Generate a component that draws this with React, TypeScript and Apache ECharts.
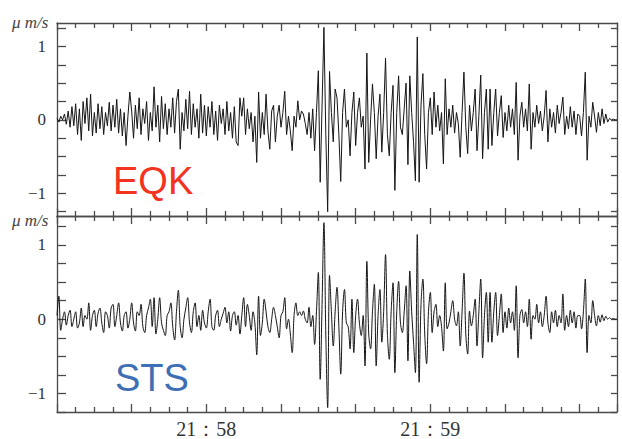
import React, { useEffect, useRef } from "react";
import * as echarts from "echarts";

// Samples: seconds after 21:57:00, one sample every 0.5 s
const startSec = 20;
const stepSec = 0.5;

const eqkValues = [
  0.02, -0.03, 0.05, 0.0, 0.08, -0.06, 0.12, -0.1, 0.18, -0.08,
  0.22, -0.2, 0.15, -0.28, 0.25, -0.05, 0.3, -0.15, 0.35, -0.22,
  0.1, -0.18, 0.22, -0.12, 0.18, -0.2, 0.1, -0.08, 0.24, -0.15,
  0.2, -0.1, 0.28, -0.18, 0.15, -0.22, 0.1, -0.35, 0.05, 0.38,
  0.12, -0.25, 0.2, -0.12, 0.3, -0.2, 0.15, -0.05, 0.25, -0.28,
  0.1, -0.15, 0.45, -0.1, 0.2, -0.3, 0.32, -0.12, 0.22, -0.2,
  0.15, -0.1, 0.3, -0.18, 0.25, 0.42, -0.4, 0.1, -0.15, 0.28,
  -0.12, 0.39, -0.2, 0.22, -0.1, 0.15, -0.25, 0.35, -0.18, 0.2,
  -0.22, 0.18, -0.1, 0.25, -0.2, 0.12, -0.28, 0.2, -0.05, 0.15,
  -0.2, 0.25, -0.15, 0.1, -0.25, 0.18, -0.3, -0.35, 0.3, 0.05,
  0.3, -0.2, 0.15, -0.12, 0.1, -0.3, 0.05, -0.58, 0.38, -0.25,
  0.1, -0.2, 0.35, -0.15, -0.4, 0.12, 0.2, -0.3, 0.05, 0.2,
  -0.1, 0.1, 0.39, -0.2, 0.05, -0.15, -0.42, 0.05, -0.1, 0.26,
  0.0, 0.12, 0.08, -0.05, -0.2, 0.1, -0.25, 0.15, -0.42, 0.1,
  0.67, -0.85, 0.2, 1.26, -0.2, -1.25, 0.66, 0.1, -0.3, 0.42,
  0.3, -0.2, -0.84, 0.1, 0.42, -0.1, 0.0, -0.49, 0.1, 0.38,
  -0.35, 0.1, 0.3, -0.1, 0.05, -0.67, 0.91, -0.58, 0.0, 0.49,
  0.1, -0.53, 0.05, 0.35, -0.44, 0.1, 0.84, -0.2, -0.49, 0.1,
  0.47, -0.96, 0.1, 0.6, -0.1, -0.2, 0.15, 0.5, -0.61, 0.6,
  0.1, -0.3, -0.83, 1.13, -0.85, 0.2, 0.63, -0.2, -0.67, 0.1,
  0.3, -0.2, 0.38, -0.1, 0.2, -0.15, 0.1, -0.6, 0.56, -0.2,
  0.15, -0.1, 0.2, -0.18, 0.1, -0.05, -0.51, 0.1, 0.65, -0.1,
  -0.46, 0.2, -0.15, 0.1, 0.42, -0.42, 0.05, 0.61, -0.53, 0.1,
  0.42, -0.4, 0.42, -0.35, 0.1, 0.42, -0.22, 0.1, 0.33, -0.24,
  0.1, -0.15, 0.2, -0.1, 0.15, -0.2, 0.51, -0.55, 0.05, 0.24,
  -0.1, 0.15, -0.15, 0.49, -0.4, 0.1, -0.1, 0.2, -0.05, 0.12,
  -0.15, 0.05, 0.4, -0.3, 0.15, -0.1, 0.1, -0.18, 0.2, -0.05,
  0.1, 0.31, -0.2, 0.05, -0.12, 0.18, -0.1, 0.12, -0.2, 0.08,
  0.05, -0.22, 0.1, 0.65, -0.55, 0.05, -0.1, 0.24, 0.05, -0.17,
  0.1, -0.08, 0.15, -0.05, 0.08, -0.03, 0.02, 0.0, 0.01, 0.0,
  0.0,
];

const stsValues = [
  0.05, 0.31, -0.15, 0.0, 0.1, -0.08, 0.05, 0.12, -0.1, 0.0,
  0.1, -0.12, -0.05, 0.15, -0.1, 0.05, 0.0, 0.22, -0.15, 0.05,
  0.12, -0.1, 0.08, 0.15, -0.05, -0.18, 0.1, 0.05, -0.12, 0.15,
  0.2, -0.1, 0.05, 0.22, -0.05, -0.16, 0.05, 0.1, -0.12, 0.0,
  0.22, -0.05, -0.16, 0.1, 0.05, 0.2, -0.1, -0.18, 0.05, 0.15,
  0.27, -0.1, 0.29, -0.2, 0.0, 0.29, -0.05, -0.15, -0.22, 0.05,
  0.1, 0.22, -0.1, -0.28, 0.1, 0.39, -0.1, -0.25, 0.0, 0.15,
  0.29, -0.05, -0.18, 0.1, 0.22, -0.1, 0.05, -0.15, 0.12, -0.05,
  -0.12, 0.1, 0.27, -0.1, -0.15, 0.05, 0.12, -0.1, 0.0, 0.08,
  0.16, -0.05, 0.1, -0.16, 0.05, 0.1, -0.08, 0.05, -0.2, 0.05,
  0.29, -0.1, 0.2, 0.05, -0.15, 0.1, -0.05, -0.48, 0.31, -0.22,
  -0.05, 0.27, 0.1, -0.1, -0.18, 0.0, 0.16, 0.05, -0.1, -0.25,
  0.05, 0.1, 0.29, -0.13, 0.0, -0.2, -0.45, 0.05, 0.22, 0.05,
  0.1, 0.05, 0.11, 0.0, -0.05, 0.16, -0.1, 0.05, -0.34, 0.1,
  0.63, -0.81, 0.2, 1.3, -0.2, -1.19, 0.59, 0.1, -0.36, 0.1,
  0.43, -0.1, -0.74, 0.1, 0.4, -0.05, -0.1, -0.4, 0.27, -0.45,
  0.05, 0.27, -0.05, -0.22, 0.05, -0.63, 0.78, -0.2, -0.4, 0.1,
  0.47, -0.63, 0.05, 0.4, -0.31, 0.1, 0.87, -0.2, -0.54, 0.1,
  0.49, -0.72, 0.1, 0.51, -0.05, -0.18, 0.1, 0.45, -0.56, 0.65,
  0.1, -0.31, -0.72, 1.14, -0.85, 0.2, 0.54, -0.2, -0.6, 0.1,
  0.36, -0.18, 0.1, 0.2, -0.1, 0.05, -0.1, -0.43, 0.49, -0.13,
  -0.05, 0.1, 0.25, 0.0, -0.09, 0.1, -0.36, 0.1, 0.62, -0.2,
  -0.47, 0.11, -0.09, 0.05, 0.27, -0.36, 0.1, 0.54, -0.52, 0.05,
  0.36, -0.31, 0.36, -0.31, 0.1, 0.36, -0.22, 0.05, 0.34, -0.18,
  0.1, -0.12, 0.15, -0.05, 0.1, -0.15, 0.45, -0.52, 0.05, 0.13,
  -0.05, 0.1, -0.1, 0.27, -0.27, 0.05, 0.0, 0.2, -0.05, 0.1,
  -0.1, 0.05, 0.31, -0.05, -0.18, 0.1, -0.05, 0.12, -0.1, 0.05,
  -0.05, 0.34, -0.15, 0.05, -0.1, 0.12, -0.05, 0.1, -0.12, 0.05,
  0.05, -0.13, 0.1, 0.54, -0.45, 0.05, -0.05, 0.25, 0.05, -0.09,
  0.05, -0.04, 0.06, -0.02, 0.04, 0.0, 0.02, 0.0, 0.01, 0.0,
  0.0,
];

const timeLabelSecs = [60, 120];
const timeLabels = ["21：58", "21：59"];
const yTickValues = [-1.25, -1, -0.75, -0.5, -0.25, 0, 0.25, 0.5, 0.75, 1, 1.25];
const yLabelValues = [-1, 0, 1];
const unitLabel = "μ m/s";
const panelLabels = ["EQK", "STS"];

const SERIF = '"Liberation Serif", "Times New Roman", "DejaVu Serif", serif';
const SANS = '"Liberation Sans", Arial, Helvetica, sans-serif';
const FRAME = "#4a4a4a";

function toPairs(vals: number[]) {
  return vals.map((v, i) => [startSec + i * stepSec, v]);
}

function xAxis(gridIndex: number, position: string, labels: boolean) {
  return {
    type: "value",
    gridIndex,
    position,
    min: 20,
    max: 170,
    interval: 20,
    axisLine: { show: true, onZero: false, lineStyle: { color: FRAME, width: 1.3 } },
    axisTick: { show: true, inside: true, length: 8, lineStyle: { color: FRAME, width: 1.3 } },
    minorTick: { show: true, splitNumber: 4, length: 5, lineStyle: { color: FRAME, width: 1.3 } },
    axisLabel: {
      show: labels,
      margin: 7,
      fontSize: 20,
      fontFamily: SERIF,
      color: "#333",
      formatter: (v: number) => {
        const k = timeLabelSecs.indexOf(Math.round(v));
        return k >= 0 ? timeLabels[k] : "";
      },
    },
    splitLine: { show: false },
    minorSplitLine: { show: false },
  };
}

function yAxis(gridIndex: number, position: string, min: number, max: number) {
  const left = position === "left";
  return {
    type: "value",
    gridIndex,
    position,
    min,
    max,
    axisLine: { show: true, onZero: false, lineStyle: { color: FRAME, width: 1.3 } },
    splitLine: { show: false },
    axisTick: {
      show: true,
      inside: true,
      length: left ? 9 : 6,
      customValues: yTickValues,
      lineStyle: { color: FRAME, width: 1.3 },
    },
    axisLabel: {
      show: left,
      customValues: left ? yLabelValues : yTickValues,
      margin: 11,
      fontSize: 17,
      fontFamily: SERIF,
      color: "#333",
      formatter: (v: number) => (v < 0 ? "−" + Math.abs(v) : String(v)),
    },
  };
}

export default function App() {
  const ref = useRef<HTMLDivElement>(null);
  useEffect(() => {
    if (!ref.current) return;
    const chart = echarts.init(ref.current, undefined, { renderer: "svg" });
    chart.setOption({
      animation: false,
      grid: [
        { left: 57, top: 23, width: 560, height: 193, show: false },
        { left: 57, top: 216, width: 560, height: 196, show: false },
      ],
      xAxis: [
        xAxis(0, "bottom", false),
        xAxis(0, "top", false),
        xAxis(1, "bottom", true),
        xAxis(1, "top", false),
      ],
      yAxis: [
        yAxis(0, "left", -1.31, 1.32),
        yAxis(0, "right", -1.31, 1.32),
        yAxis(1, "left", -1.25, 1.39),
        yAxis(1, "right", -1.25, 1.39),
      ],
      series: [
        {
          type: "line",
          name: panelLabels[0],
          xAxisIndex: 0,
          yAxisIndex: 0,
          data: toPairs(eqkValues),
          showSymbol: false,
          symbol: "none",
          lineStyle: { color: "#151515", width: 1 },
        },
        {
          type: "line",
          name: panelLabels[1],
          xAxisIndex: 2,
          yAxisIndex: 2,
          data: toPairs(stsValues),
          showSymbol: false,
          symbol: "none",
          smooth: 0.35,
          lineStyle: { color: "#151515", width: 1 },
        },
      ],
      graphic: [
        {
          type: "text",
          x: 12,
          y: 22,
          z: 10,
          style: { text: unitLabel, font: `italic 17px ${SERIF}`, fill: "#444", verticalAlign: "middle" },
        },
        {
          type: "text",
          x: 12,
          y: 220,
          z: 10,
          style: { text: unitLabel, font: `italic 17px ${SERIF}`, fill: "#444", verticalAlign: "middle" },
        },
        {
          type: "text",
          x: 113,
          y: 181,
          z: 10,
          style: { text: panelLabels[0], font: `38px ${SANS}`, fill: "#f3321f", verticalAlign: "middle" },
        },
        {
          type: "text",
          x: 115,
          y: 378,
          z: 10,
          style: { text: panelLabels[1], font: `38px ${SANS}`, fill: "#3e6fb5", verticalAlign: "middle" },
        },
      ],
    });
    return () => chart.dispose();
  }, []);
  return (
    <div
      ref={ref}
      style={{ position: "fixed", left: 0, top: 0, width: 622, height: 439, background: "#fff" }}
    />
  );
}
